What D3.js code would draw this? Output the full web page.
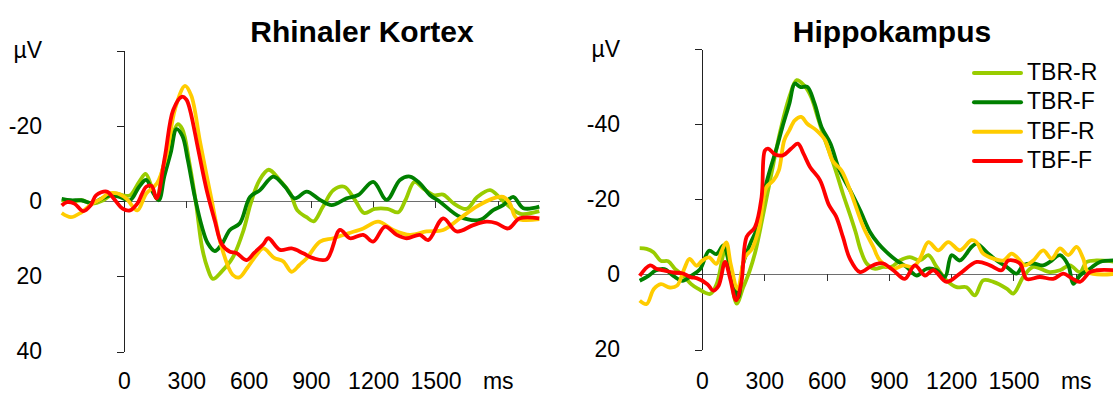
<!DOCTYPE html>
<html>
<head>
<meta charset="utf-8">
<script src="https://cdn.jsdelivr.net/npm/d3@7"></script>
<style>
  html, body { margin: 0; padding: 0; background: #fff; }
  svg { display: block; font-family: Arial, "Liberation Sans", sans-serif; }
</style>
</head>
<body>
<svg id="chart" width="1113" height="394"></svg>
<script>
// Condition names and colours
const seriesNames  = ["TBR-R", "TBR-F", "TBF-R", "TBF-F"];
const seriesColors = ["#99CC00", "#008000", "#FFCC00", "#FF0000"];

// Axis ticks (ms, µV)
const timeTicks   = [0, 300, 600, 900, 1200, 1500, 1800];
const rhinalTicks = [-40, -20, 0, 20, 40];
const hippoTicks  = [-60, -40, -20, 0, 20];

// Rhinal cortex ERPs: [ms, µV]
const rhinalTBRR = [[-300,-0.2],[-256,0.3],[-205,-0.2],[-153,0.7],[-100,-0.2],[-49,-2],[-5,-1.5],[29,-1.5],[73,-5.1],[104,-7.2],[133,-3.8],[159,-0.6],[185,-8.3],[229,-16.4],[258,-20.4],[281,-19.1],[315,-10.1],[347,0.7],[376,12.4],[402,17.8],[428,20.7],[471,18.7],[523,15.1],[575,7.9],[610,0.7],[653,-5.6],[697,-8.3],[749,-5.6],[801,-2],[835,2.5],[879,4.3],[913,5.4],[957,1.6],[1009,-2.9],[1061,-3.8],[1113,-0.2],[1156,3.2],[1208,2.1],[1269,2.1],[1321,3],[1355,-0.2],[1399,-5.1],[1442,-3.3],[1494,-1.5],[1537,-1.7],[1589,0.7],[1650,2.1],[1702,-1.1],[1763,-2.9],[1814,-0.6],[1858,1.6],[1910,3.4],[2000,2.7]];
const rhinalTBRF = [[-300,-0.6],[-256,-0.2],[-205,-0.2],[-153,0.6],[-109,-0.6],[-66,-1.5],[-22,-1.1],[29,-0.2],[73,-3.8],[107,-5.6],[142,-2],[168,-0.2],[194,-6.5],[225,-12.8],[253,-19.1],[281,-17.3],[307,-11],[341,-1.1],[376,7],[402,11.1],[437,13.3],[471,11.5],[510,7.7],[558,5.9],[607,-1.1],[655,-2.9],[719,-6.5],[775,-3.8],[823,-0.7],[880,-2.5],[944,-0.3],[1000,1.1],[1072,-0.7],[1128,-1.6],[1200,-5.1],[1265,-0.3],[1329,-5.6],[1377,-6.5],[1425,-4.7],[1473,-1.6],[1521,0.2],[1618,4.2],[1714,5],[1778,2.4],[1826,1.1],[1874,-1.1],[1923,1.9],[2000,1.5]];
const rhinalTBFR = [[-300,3.2],[-256,4.3],[-205,3],[-153,0.7],[-109,-0.6],[-75,-2],[-31,-2],[12,-0.6],[64,2.5],[107,-2],[159,-4.7],[203,-11.9],[246,-24.5],[294,-30.6],[324,-28],[367,-15.5],[419,-1.1],[471,12.4],[523,19.6],[555,20.3],[593,17.8],[640,14.2],[671,12.6],[723,15.1],[766,16],[807,18.8],[845,17],[880,15.2],[944,10.8],[1008,9.9],[1080,8.6],[1152,7.3],[1224,5.5],[1297,7.7],[1377,9],[1457,8.1],[1537,7.7],[1618,4.6],[1698,1.5],[1778,-0.7],[1826,-1.1],[1858,0.6],[1891,4.6],[2000,4.8]];
const rhinalTBFF = [[-300,1.2],[-274,0.3],[-239,0.7],[-196,2.7],[-161,1.2],[-135,-1.5],[-83,-2.5],[-49,-0.6],[-5,2.1],[29,2.5],[64,0.7],[107,-3.8],[133,-4],[157,-0.7],[197,-11.8],[237,-24.2],[278,-27.7],[300,-27],[318,-24.2],[358,-13.5],[398,-2.9],[437,5.2],[471,11.5],[510,13.5],[541,13.8],[591,15.7],[627,13.8],[671,11.5],[695,9.9],[751,13],[807,12.6],[863,13.9],[911,15.2],[976,15.5],[1040,7.7],[1088,9.9],[1152,9],[1200,10.8],[1257,6.8],[1313,9],[1361,9.9],[1425,9],[1465,10.4],[1537,4.6],[1602,8.1],[1682,6.4],[1746,5.5],[1794,5.9],[1850,7.3],[1906,4.6],[2000,4.6]];

// Hippocampus ERPs: [ms, µV]
const hippoTBRR = [[-300,-7],[-267,-6.8],[-234,-5.9],[-198,-3.6],[-163,-3.5],[-129,-1.4],[-90,0.3],[-52,2.6],[-20,3.8],[39,5.2],[71,2.5],[111,-6.4],[135,-1.1],[167,7.8],[199,3.4],[230,-1],[258,-6.3],[292,-15.2],[318,-22.3],[344,-29.5],[378,-38.4],[421,-47.3],[456,-51.7],[490,-50.4],[525,-47.3],[559,-41.5],[593,-35.7],[628,-30.3],[654,-25.9],[679,-21.4],[714,-15.7],[740,-11.2],[765,-6.3],[793,-2.9],[830,-1.5],[873,-2],[912,-2],[953,-3.7],[1001,-4.6],[1050,-3.7],[1090,-5.1],[1130,-2],[1178,1.6],[1226,3.4],[1274,3.4],[1314,5.6],[1354,1.6],[1403,2],[1467,3.8],[1499,5.1],[1547,0.7],[1595,-2],[1675,-0.6],[1724,-1.1],[1772,-2.4],[1820,-0.6],[1852,-3.3],[1900,-3.7],[2000,-3.3]];
const hippoTBRF = [[-300,1.7],[-258,0.4],[-224,-1],[-181,-1.4],[-138,0.4],[-95,1.7],[-52,0.4],[-9,-1.4],[34,-6.3],[69,-5.4],[103,-7.7],[129,-3.6],[155,2.6],[175,6.1],[198,-2.8],[232,-8.1],[267,-12.5],[301,-22.3],[327,-27.7],[361,-33.9],[387,-39.2],[421,-45.5],[447,-50.8],[473,-49.9],[507,-49.9],[542,-45.5],[576,-39.2],[619,-34.8],[662,-27.7],[713,-22.4],[761,-17.1],[809,-11.3],[849,-8.2],[889,-5.9],[937,-3.7],[985,-2],[1034,0.3],[1082,-1.5],[1130,-1.1],[1170,0.7],[1202,-5.1],[1242,-3.7],[1298,-7.3],[1323,-8.2],[1371,-5.9],[1419,-3.7],[1467,-2],[1515,-0.2],[1547,-2.4],[1595,-2.9],[1643,-2.4],[1675,-3.3],[1724,-5.1],[1764,-2.4],[1788,2.5],[1820,0.3],[1868,-1.5],[1916,-3.3],[2000,-3.7]];
const hippoTBFR = [[-300,7],[-267,7.9],[-232,3.9],[-198,2.6],[-155,3.5],[-120,3],[-86,-1.4],[-60,-4.1],[-26,-2.3],[0,-3.6],[34,-4.5],[69,-2.8],[95,-6.3],[117,-8.5],[138,-2.8],[172,3.9],[206,-4.5],[241,-6.8],[275,-12.5],[310,-23.2],[344,-25],[370,-27.7],[396,-35.7],[421,-38.4],[447,-41],[478,-41.9],[507,-40.1],[550,-38.4],[593,-35.7],[628,-30.3],[671,-27.7],[713,-22.4],[777,-12.6],[825,-7.3],[857,-3.7],[921,-1.5],[969,-2.4],[1017,-2],[1050,-4.2],[1090,-8.6],[1138,-6.4],[1186,-8.6],[1242,-6.4],[1298,-9.1],[1322,-8.6],[1354,-5.5],[1403,-4.2],[1451,-3.7],[1491,-5.5],[1523,-4.2],[1555,-2.4],[1595,-3.7],[1643,-6.4],[1684,-4.2],[1724,-6.9],[1764,-5.1],[1804,-7.3],[1836,-4.2],[1860,-0.6],[2000,-0.2]];
const hippoTBFF = [[-300,0.4],[-250,-2.4],[-220,-1.5],[-180,-1],[-138,-0.5],[-95,-0.3],[-52,0.8],[-26,1],[26,2.6],[54,4.3],[80,3],[111,-3.3],[135,1],[164,6.9],[190,2],[215,-10],[255,-12.6],[287,-20.6],[303,-33],[318,-33.5],[350,-32],[390,-31.7],[430,-33.5],[462,-34.8],[490,-32],[520,-28.6],[568,-25.1],[611,-18.5],[645,-15.5],[679,-9.9],[712,-4.2],[761,-0.6],[809,-2],[841,-2.8],[873,-2.9],[921,-1.1],[977,1.2],[1025,-2.4],[1074,0.3],[1114,-1.1],[1178,2],[1242,-0.2],[1323,-3.3],[1387,-2.4],[1443,-1.1],[1475,-3.7],[1531,-2.9],[1563,1.2],[1627,0.7],[1691,1.2],[1740,-0.2],[1780,1],[1820,2],[1868,-0.6],[1900,-1.1],[2000,-1.1]];

const panels = [
  { title: "Rhinaler Kortex", titleX: 362, series: [rhinalTBRR, rhinalTBRF, rhinalTBFR, rhinalTBFF],
    yTicks: rhinalTicks, xRange: [61.7, 539.3], yRange: [50.5, 351.5] },
  { title: "Hippokampus", titleX: 892, series: [hippoTBRR, hippoTBRF, hippoTBFR, hippoTBFF],
    yTicks: hippoTicks, xRange: [639.7, 1117.3], yRange: [49, 349.5], legend: true }
];

const svg = d3.select("#chart");
const fmt = d => String(d);

panels.forEach(p => {
  const x = d3.scaleLinear().domain([-300, 2000]).range(p.xRange);
  const yMin = p.yTicks[0], yMax = p.yTicks[p.yTicks.length - 1];
  const y = d3.scaleLinear().domain([yMin, yMax]).range(p.yRange);
  const g = svg.append("g");

  // title
  g.append("text")
    .attr("x", p.titleX).attr("y", 42)
    .attr("text-anchor", "middle")
    .attr("font-size", 30).attr("font-weight", "bold")
    .text(p.title);

  // zero line with time ticks
  const xAxis = g.append("g")
    .attr("transform", `translate(0,${y(0)})`)
    .call(d3.axisBottom(x).tickValues(timeTicks).tickSize(7).tickSizeOuter(0).tickFormat(""));
  xAxis.select(".domain").attr("stroke", "#6e6e6e");
  xAxis.selectAll(".tick line").attr("stroke", "#333");

  // time labels along the bottom
  const xLab = g.append("g")
    .attr("transform", "translate(0,389)")
    .call(d3.axisBottom(x).tickValues(timeTicks).tickSize(0).tickPadding(0)
      .tickFormat(d => d === 1800 ? "ms" : fmt(d)));
  xLab.select(".domain").remove();
  xLab.selectAll("text").attr("y", 0).attr("dy", 0)
    .attr("font-size", 23).attr("fill", "#000")
    .attr("font-family", "Arial, 'Liberation Sans', sans-serif");

  // voltage axis at stimulus onset
  const yAxis = g.append("g")
    .attr("transform", `translate(${x(0)},0)`)
    .call(d3.axisLeft(y).tickValues(p.yTicks).tickSize(7).tickSizeOuter(0).tickPadding(75)
      .tickFormat(d => d === yMin ? "µV" : fmt(d)));
  yAxis.select(".domain").attr("stroke", "#222");
  yAxis.selectAll(".tick line").attr("stroke", "#222");
  yAxis.selectAll("text").attr("font-size", 23).attr("fill", "#000")
    .attr("font-family", "Arial, 'Liberation Sans', sans-serif");
  svg.selectAll(".domain, .tick line").attr("shape-rendering", "crispEdges");

  // waveforms
  const line = d3.line()
    .x(d => x(d[0])).y(d => y(d[1]))
    .curve(d3.curveCatmullRom.alpha(0.5));
  p.series.forEach((s, i) => {
    g.append("path")
      .attr("d", line(s))
      .attr("fill", "none")
      .attr("stroke", seriesColors[i])
      .attr("stroke-width", 3.8)
      .attr("stroke-linejoin", "round");
  });

  if (p.legend) {
    const ly = d3.scalePoint().domain(seriesNames).range([73, 161]);
    const lg = g.append("g");
    seriesNames.forEach((n, i) => {
      lg.append("line")
        .attr("x1", 974).attr("x2", 1021)
        .attr("y1", ly(n)).attr("y2", ly(n))
        .attr("stroke", seriesColors[i]).attr("stroke-width", 4)
        .attr("stroke-linecap", "round");
      lg.append("text")
        .attr("x", 1027).attr("y", ly(n) + 7)
        .attr("font-size", 23)
        .text(n);
    });
  }
});
</script>
</body>
</html>
